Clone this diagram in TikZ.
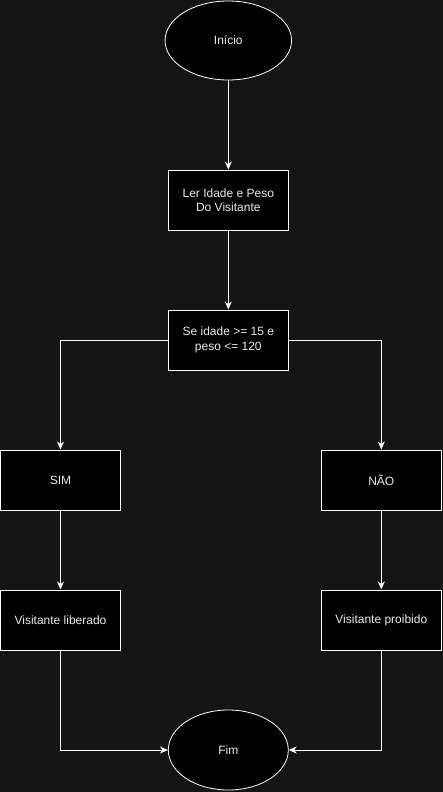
\documentclass[tikz,border=0pt]{standalone}
\usepackage{fontspec}
\setmainfont{Liberation Sans}
\usetikzlibrary{arrows.meta,shapes.geometric}
\definecolor{bgc}{RGB}{20,20,20}
\definecolor{txt}{RGB}{235,235,235}
\begin{document}
\begin{tikzpicture}[x=1pt,y=-1pt,
  box/.style={draw=white,fill=black,line width=1pt,minimum width=120pt,minimum height=60pt,inner sep=0pt,align=center,text=txt,font=\fontsize{12}{14.5}\selectfont},
  oval/.style={draw=white,fill=black,line width=0.8pt,ellipse,inner sep=0pt,text=txt,font=\fontsize{12}{14.5}\selectfont},
  conn/.style={draw=white,line width=1pt,-{Stealth[length=8pt,width=7pt,inset=2.5pt]}}]
\fill[bgc] (0,0) rectangle (443,792);
\useasboundingbox (0,0) rectangle (443,792);
\node[oval,minimum width=126.5pt,minimum height=79pt] (ini) at (228.3,40.5) {Início};
\node[box] (ler) at (228.3,200) {Ler Idade e Peso\\Do Visitante};
\node[box] (se) at (228.3,340) {Se idade >= 15 e\\peso <= 120};
\node[box] (sim) at (60.5,480) {SIM};
\node[box] (nao) at (381.3,480) {NÃO};
\node[box] (lib) at (60.5,620) {Visitante liberado};
\node[box] (pro) at (381.3,620) {Visitante proibido};
\node[oval,minimum width=120pt,minimum height=80pt] (fim) at (228.3,750) {Fim};
\draw[conn] (ini) -- (ler);
\draw[conn] (ler) -- (se);
\draw[conn] (se.west) -| (sim.north);
\draw[conn] (se.east) -| (nao.north);
\draw[conn] (sim) -- (lib);
\draw[conn] (nao) -- (pro);
\draw[conn] (lib.south) |- (fim.west);
\draw[conn] (pro.south) |- (fim.east);
\end{tikzpicture}
\end{document}
